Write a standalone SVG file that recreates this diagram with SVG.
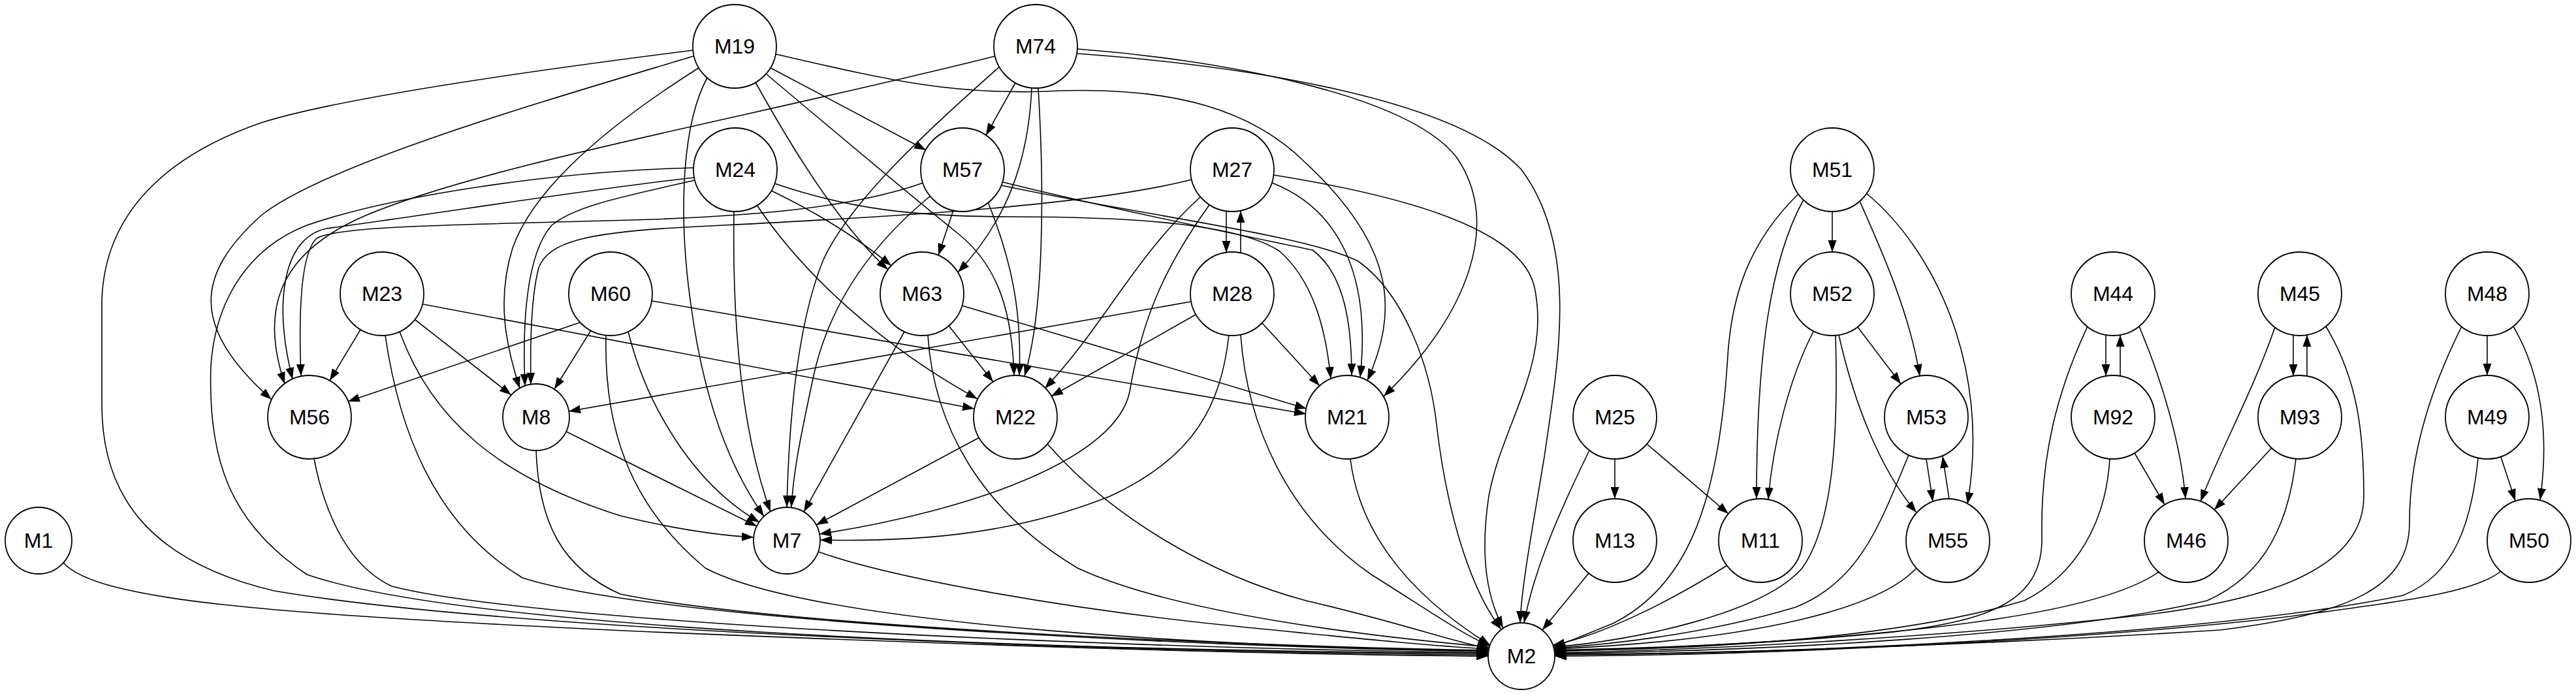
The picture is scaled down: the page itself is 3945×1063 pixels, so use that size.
<svg xmlns="http://www.w3.org/2000/svg" width="3945" height="1063" viewBox="0 0 3945 1063">
<defs>
<marker id="arr" markerUnits="userSpaceOnUse" markerWidth="18" markerHeight="13" refX="18" refY="6.5" orient="auto">
<path d="M0,0 L18,6.5 L0,13 z" fill="#000"/>
</marker>
<style>
.e{fill:none;stroke:#000;stroke-width:1.6;marker-end:url(#arr)}
.n circle{fill:#fff;stroke:#000;stroke-width:1.8}
.n text{font-family:"Liberation Sans",Arial,sans-serif;font-size:32px;text-anchor:middle;fill:#000}
</style>
</defs>
<rect width="3945" height="1063" fill="#fff"/>
<g id="edges">
<path class="e" d="M97,862 C150,920 400,940 1000,968 C1600,993 2000,1003 2279,1005"/>
<path class="e" d="M1061,77 C800,110 520,150 400,188 C250,240 160,330 156,460 L156,620 C156,760 230,860 420,905 C800,970 1800,1000 2279,1003"/>
<path class="e" d="M1062,86 C850,150 500,250 400,330 C300,420 290,500 416,612"/>
<path class="e" d="M1070,104 C950,180 820,280 785,380 C760,460 775,530 796,595"/>
<path class="e" d="M1083,119 C1040,200 1040,350 1060,480 C1080,620 1120,720 1170,791"/>
<path class="e" d="M1157,126 C1220,240 1290,350 1360,413"/>
<path class="e" d="M1173,113 C1300,220 1420,320 1470,360 C1530,410 1550,480 1553,575"/>
<path class="e" d="M1180,104 L1418,230"/>
<path class="e" d="M1188,83 C1350,120 1450,145 1600,140 C1800,130 1920,170 2000,250 C2140,380 2140,480 2094,583"/>
<path class="e" d="M1524,86 C1150,180 750,250 560,330 C420,390 400,480 436,588"/>
<path class="e" d="M1555,127 L1510,207"/>
<path class="e" d="M1531,102 C1420,200 1300,310 1260,400 C1220,500 1208,650 1205,777"/>
<path class="e" d="M1580,134 C1575,250 1540,340 1467,417"/>
<path class="e" d="M1590,135 C1600,300 1598,480 1569,576"/>
<path class="e" d="M1650,75 C1850,90 2150,140 2230,240 C2300,340 2250,480 2119,607"/>
<path class="e" d="M1649,82 C1900,100 2230,150 2330,260 C2420,380 2385,560 2365,700 C2345,820 2330,900 2328,954"/>
<path class="e" d="M1062,257 C850,262 600,300 470,345 C380,380 330,460 323,560 C318,700 350,800 470,880 C700,960 1500,995 2279,1001"/>
<path class="e" d="M1063,272 C900,290 650,330 500,350 C430,365 420,470 448,581"/>
<path class="e" d="M1064,276 C960,300 880,315 845,345 C805,390 800,500 804,591"/>
<path class="e" d="M1124,324 C1122,450 1128,640 1180,784"/>
<path class="e" d="M1181,292 C1260,330 1320,370 1365,407"/>
<path class="e" d="M1159,314 C1230,420 1350,530 1497,611"/>
<path class="e" d="M1186,281 C1300,320 1400,332 1550,332 C1750,332 1900,345 1960,385 C2010,430 2030,500 2038,580"/>
<path class="e" d="M1414,280 C1300,320 1150,330 1000,336 C700,345 520,345 485,365 C458,390 458,500 461,576"/>
<path class="e" d="M1460,322 L1437,391"/>
<path class="e" d="M1513,310 C1550,400 1565,480 1561,575"/>
<path class="e" d="M1425,300 C1340,370 1270,460 1245,580 C1228,660 1215,720 1212,777"/>
<path class="e" d="M1536,279 C1700,320 1900,360 2010,383 C2060,420 2070,500 2070,575"/>
<path class="e" d="M1534,284 C1750,330 2000,360 2080,400 C2150,450 2190,560 2200,650 C2215,780 2250,900 2299,964"/>
<path class="e" d="M1878,323 L1878,387"/>
<path class="e" d="M1900,387 L1900,323"/>
<path class="e" d="M1825,275 C1650,320 1300,335 1050,348 C900,356 840,370 825,410 C812,460 812,540 813,589"/>
<path class="e" d="M1838,302 C1740,390 1690,500 1600,595"/>
<path class="e" d="M1852,314 C1790,400 1750,480 1730,600 C1710,700 1500,780 1255,818"/>
<path class="e" d="M1948,280 C2050,320 2100,420 2083,578"/>
<path class="e" d="M1950,268 C2150,300 2330,350 2350,440 C2375,560 2300,650 2280,760 C2265,860 2280,920 2302,962"/>
<path class="e" d="M1824,462 L871,630"/>
<path class="e" d="M1831,482 L1610,607"/>
<path class="e" d="M1933,495 L2021,591"/>
<path class="e" d="M1882,513 C1870,620 1830,700 1700,760 C1550,820 1400,830 1256,827"/>
<path class="e" d="M1900,513 C1910,650 1970,790 2100,880 C2180,930 2240,972 2281,989"/>
<path class="e" d="M552,505 L505,583"/>
<path class="e" d="M636,490 L783,605"/>
<path class="e" d="M648,466 L1492,626"/>
<path class="e" d="M612,508 C660,640 760,730 950,790 C1040,812 1100,820 1154,823"/>
<path class="e" d="M590,514 C610,650 660,800 800,885 C1000,950 1800,990 2279,998"/>
<path class="e" d="M888,494 L533,615"/>
<path class="e" d="M905,506 L849,596"/>
<path class="e" d="M999,461 L2000,634"/>
<path class="e" d="M962,508 C990,620 1060,740 1163,800"/>
<path class="e" d="M928,514 C925,650 960,770 1080,870 C1250,960 1900,992 2280,997"/>
<path class="e" d="M1453,499 L1521,585"/>
<path class="e" d="M1473,468 L2001,626"/>
<path class="e" d="M1385,508 L1231,784"/>
<path class="e" d="M1421,514 C1430,650 1500,780 1650,870 C1800,940 2100,975 2281,991"/>
<path class="e" d="M481,703 C500,800 540,870 600,898 C800,950 1600,990 2279,1000"/>
<path class="e" d="M867,661 L1159,806"/>
<path class="e" d="M821,690 C825,800 860,870 950,910 C1200,960 1900,990 2280,996"/>
<path class="e" d="M1500,670 L1250,804"/>
<path class="e" d="M1604,680 C1700,790 1850,880 2000,920 C2150,955 2230,985 2280,993"/>
<path class="e" d="M1253,845 C1350,880 1600,930 1900,960 C2100,980 2200,990 2280,994"/>
<path class="e" d="M2068,703 C2080,800 2140,900 2282,988"/>
<path class="e" d="M2473,703 L2473,764"/>
<path class="e" d="M2522,680 L2647,787"/>
<path class="e" d="M2434,690 C2390,780 2350,870 2334,954"/>
<path class="e" d="M2433,878 L2362,965"/>
<path class="e" d="M2645,866 C2560,920 2450,975 2378,988"/>
<path class="e" d="M2806,324 L2806,386"/>
<path class="e" d="M2762,306 C2710,400 2690,550 2690,764"/>
<path class="e" d="M2754,297 C2680,370 2650,450 2645,560 C2630,780 2580,900 2470,955 C2420,975 2400,985 2378,989"/>
<path class="e" d="M2848,308 C2880,380 2925,480 2940,576"/>
<path class="e" d="M2858,296 C2960,380 3050,560 3013,772"/>
<path class="e" d="M2777,508 C2740,580 2715,680 2708,765"/>
<path class="e" d="M2811,514 C2815,650 2810,800 2760,870 C2700,940 2500,982 2379,991"/>
<path class="e" d="M2845,501 L2911,588"/>
<path class="e" d="M2816,513 C2840,620 2880,720 2935,785"/>
<path class="e" d="M2950,703 L2960,768"/>
<path class="e" d="M2985,764 L2975,699"/>
<path class="e" d="M2923,697 C2880,800 2850,890 2750,930 C2600,975 2450,988 2379,993"/>
<path class="e" d="M2935,870 C2880,930 2700,980 2380,994"/>
<path class="e" d="M3225,513 L3225,576"/>
<path class="e" d="M3247,576 L3247,513"/>
<path class="e" d="M3276,500 C3310,580 3340,680 3347,764"/>
<path class="e" d="M3197,500 C3150,600 3125,700 3127,820 C3130,920 3050,950 2900,968 C2700,988 2500,993 2380,996"/>
<path class="e" d="M3269,694 L3315,773"/>
<path class="e" d="M3231,703 C3225,800 3180,880 3100,920 C2900,980 2600,994 2380,997"/>
<path class="e" d="M3306,876 C3230,930 3000,978 2380,998"/>
<path class="e" d="M3512,513 L3512,576"/>
<path class="e" d="M3533,576 L3533,513"/>
<path class="e" d="M3484,501 C3450,600 3400,690 3370,768"/>
<path class="e" d="M3479,686 L3391,781"/>
<path class="e" d="M3562,500 C3610,580 3620,660 3620,760 C3620,880 3450,920 3300,940 C3000,975 2600,996 2381,1000"/>
<path class="e" d="M3516,703 C3505,800 3470,880 3380,920 C3150,975 2700,997 2381,1001"/>
<path class="e" d="M3809,514 L3809,575"/>
<path class="e" d="M3849,500 C3890,570 3905,660 3890,766"/>
<path class="e" d="M3830,700 L3852,767"/>
<path class="e" d="M3770,500 C3720,600 3690,700 3690,800 C3690,900 3600,940 3400,965 C3000,990 2600,1002 2381,1002"/>
<path class="e" d="M3795,702 C3785,800 3760,880 3680,912 C3400,970 2800,1001 2381,1003"/>
<path class="e" d="M3831,874 C3790,910 3650,925 3500,945 C3200,980 2700,1004 2381,1005"/>
</g>
<g id="M19" class="n"><circle cx="1125" cy="71" r="64"/><text x="1125" y="82">M19</text></g>
<g id="M74" class="n"><circle cx="1586" cy="71" r="64"/><text x="1586" y="82">M74</text></g>
<g id="M24" class="n"><circle cx="1126" cy="260" r="64"/><text x="1126" y="271">M24</text></g>
<g id="M57" class="n"><circle cx="1474" cy="260" r="64"/><text x="1474" y="271">M57</text></g>
<g id="M27" class="n"><circle cx="1887" cy="260" r="64"/><text x="1887" y="271">M27</text></g>
<g id="M51" class="n"><circle cx="2806" cy="260" r="64"/><text x="2806" y="271">M51</text></g>
<g id="M23" class="n"><circle cx="585" cy="450" r="64"/><text x="585" y="461">M23</text></g>
<g id="M60" class="n"><circle cx="935" cy="450" r="64"/><text x="935" y="461">M60</text></g>
<g id="M63" class="n"><circle cx="1412" cy="450" r="64"/><text x="1412" y="461">M63</text></g>
<g id="M28" class="n"><circle cx="1887" cy="450" r="64"/><text x="1887" y="461">M28</text></g>
<g id="M52" class="n"><circle cx="2806" cy="450" r="64"/><text x="2806" y="461">M52</text></g>
<g id="M44" class="n"><circle cx="3236" cy="450" r="64"/><text x="3236" y="461">M44</text></g>
<g id="M45" class="n"><circle cx="3522" cy="450" r="64"/><text x="3522" y="461">M45</text></g>
<g id="M48" class="n"><circle cx="3809" cy="450" r="64"/><text x="3809" y="461">M48</text></g>
<g id="M56" class="n"><circle cx="474" cy="639" r="64"/><text x="474" y="650">M56</text></g>
<g id="M8" class="n"><circle cx="821" cy="639" r="51"/><text x="821" y="650">M8</text></g>
<g id="M22" class="n"><circle cx="1555" cy="639" r="64"/><text x="1555" y="650">M22</text></g>
<g id="M21" class="n"><circle cx="2063" cy="639" r="64"/><text x="2063" y="650">M21</text></g>
<g id="M25" class="n"><circle cx="2473" cy="639" r="64"/><text x="2473" y="650">M25</text></g>
<g id="M53" class="n"><circle cx="2950" cy="639" r="64"/><text x="2950" y="650">M53</text></g>
<g id="M92" class="n"><circle cx="3236" cy="639" r="64"/><text x="3236" y="650">M92</text></g>
<g id="M93" class="n"><circle cx="3522" cy="639" r="64"/><text x="3522" y="650">M93</text></g>
<g id="M49" class="n"><circle cx="3809" cy="639" r="64"/><text x="3809" y="650">M49</text></g>
<g id="M1" class="n"><circle cx="59" cy="828" r="51"/><text x="59" y="839">M1</text></g>
<g id="M7" class="n"><circle cx="1205" cy="828" r="51"/><text x="1205" y="839">M7</text></g>
<g id="M13" class="n"><circle cx="2473" cy="828" r="64"/><text x="2473" y="839">M13</text></g>
<g id="M11" class="n"><circle cx="2696" cy="828" r="64"/><text x="2696" y="839">M11</text></g>
<g id="M55" class="n"><circle cx="2983" cy="828" r="64"/><text x="2983" y="839">M55</text></g>
<g id="M46" class="n"><circle cx="3348" cy="828" r="64"/><text x="3348" y="839">M46</text></g>
<g id="M50" class="n"><circle cx="3873" cy="828" r="64"/><text x="3873" y="839">M50</text></g>
<g id="M2" class="n"><circle cx="2330" cy="1005" r="51"/><text x="2330" y="1016">M2</text></g>
</svg>
